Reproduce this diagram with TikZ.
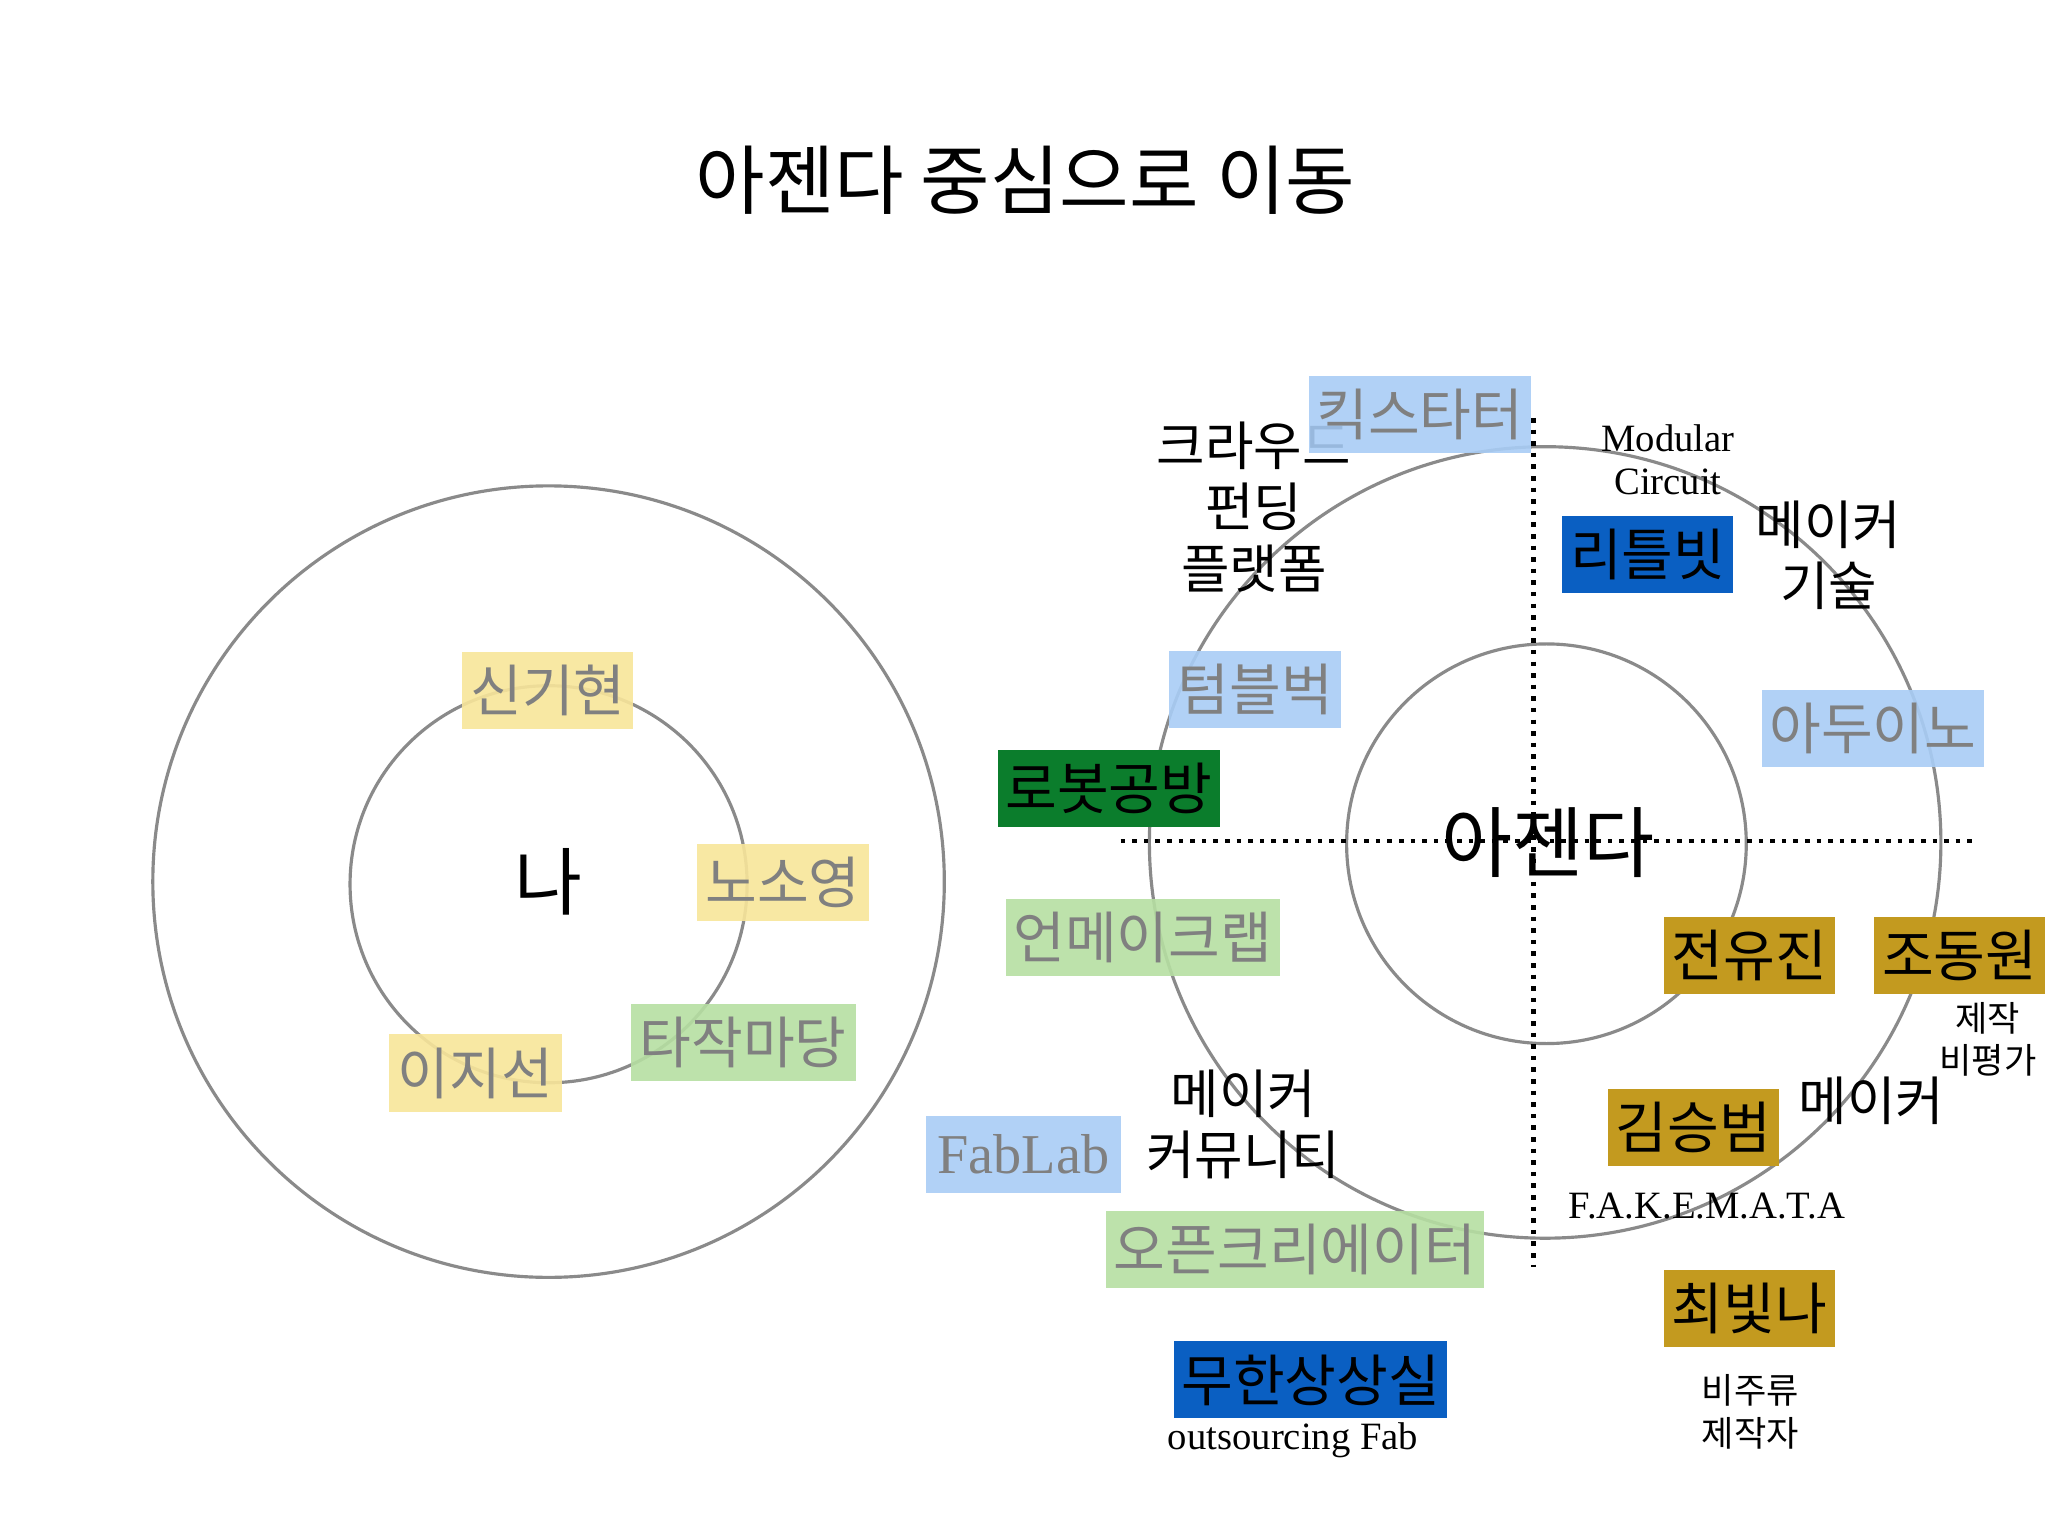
\documentclass[tikz,border=0pt]{standalone}
\usepackage{fontspec}
\setmainfont{Liberation Serif}
\newfontfamily\kr{Noto Sans CJK KR}
\def\pxu{0.01306cm}
\definecolor{cyel}{HTML}{F8E69A}
\definecolor{cgrn}{HTML}{B6DFA2}
\definecolor{cblu}{HTML}{A9CDF6}
\definecolor{cdg}{HTML}{0B7D2C}
\definecolor{cdb}{HTML}{0A5FC2}
\definecolor{cgold}{HTML}{C39A1F}
\definecolor{cline}{HTML}{8A8A8A}
\tikzset{
 bx/.style={inner sep=0pt, minimum height=59*\pxu, font=\kr\fontsize{16}{18}\selectfont},
 lite/.style={bx, fill opacity=0.9, text opacity=1, text=gray},
 dark/.style={bx, text=black},
 ring/.style={draw=cline, line width=0.9pt},
 lbl/.style={font=\kr\fontsize{15}{17.5}\selectfont, align=center},
 sm/.style={font=\kr\fontsize{10}{12}\selectfont, align=center},
 en/.style={font=\fontsize{11}{12}\selectfont, align=center},
}
\begin{document}
\begin{tikzpicture}[x=\pxu, y=-\pxu]
\useasboundingbox (0,0) rectangle (1568,1176);
\fill[white] (0,0) rectangle (1568,1176);
\node (title) at (785,138) {\kr\fontsize{21.5}{24}\selectfont 아젠다 중심으로 이동};
% left
\draw[ring] (420,675) circle (303);
\draw[ring] (420,677) circle (152);
\node (me) at (420,675) {\kr\fontsize{21}{24}\selectfont 나};
\node[lite, fill=cyel, minimum width=131*\pxu] (a1) at (419.5,528.5) {신기현};
\node[lite, fill=cyel, minimum width=131*\pxu] (a2) at (599.5,675.5) {노소영};
\node[lite, fill=cyel, minimum width=132*\pxu] (a3) at (364,821.5) {이지선};
\node[lite, fill=cgrn, minimum width=172*\pxu] (a4) at (569,798) {타작마당};
% right
\draw[ring] (1183,645) circle (303);
\draw[ring] (1184,646) circle (153);
\coordinate (vt) at (1174,320); \coordinate (vb) at (1174,970);
\coordinate (hl) at (858,644); \coordinate (hr) at (1512,644);
\draw[dotted, line width=1.3pt] (vt) -- (vb);
\draw[dotted, line width=1.3pt] (hl) -- (hr);
\node (ag) at (1185,645) {\kr\fontsize{22}{24}\selectfont 아젠다};
\node[lbl] (t1) at (960,388) {크라우드\\펀딩\\플랫폼};
\node[lite, fill=cblu, minimum width=170*\pxu] (b1) at (1087,317.5) {킥스타터};
\node[lite, fill=cblu, minimum width=132*\pxu] (b2) at (961,528) {텀블벅};
\node[dark, fill=cdg, minimum width=170*\pxu] (b3) at (849,603.5) {로봇공방};
\node[lite, fill=cgrn, minimum width=210*\pxu] (b4) at (875,717.5) {언메이크랩};
\node[lite, fill=cblu, minimum width=149*\pxu, font=\fontsize{16}{18}\selectfont] (b5) at (783.5,884) {FabLab};
\node[lbl] (t2) at (952,861) {메이커\\커뮤니티};
\node[lite, fill=cgrn, minimum width=289*\pxu] (b6) at (991.5,956.5) {오픈크리에이터};
\node[dark, fill=cdb, minimum width=209*\pxu] (b7) at (1003.5,1056.5) {무한상상실};
\node[en] (t3) at (990,1103) {outsourcing Fab};
\node[en] (t4) at (1277,352) {Modular\\Circuit};
\node[dark, fill=cdb, minimum width=131*\pxu] (b8) at (1261.5,424.5) {리틀빗};
\node[lbl] (t5) at (1400,425) {메이커\\기술};
\node[lite, fill=cblu, minimum width=170*\pxu] (b9) at (1434,557.5) {아두이노};
\node[dark, fill=cgold, minimum width=131*\pxu] (c1) at (1339.5,731.5) {전유진};
\node[dark, fill=cgold, minimum width=131*\pxu] (c2) at (1500.5,731.5) {조동원};
\node[sm] (t6) at (1522,796) {제작\\비평가};
\node[dark, fill=cgold, minimum width=131*\pxu] (c3) at (1296.5,863.5) {김승범};
\node[lbl] (t7) at (1433,843) {메이커};
\node[en] (t8) at (1307,923) {F.A.K.E.M.A.T.A};
\node[dark, fill=cgold, minimum width=131*\pxu] (c4) at (1339.5,1001.5) {최빛나};
\node[sm] (t9) at (1340,1081) {비주류\\제작자};
\end{tikzpicture}
\end{document}
